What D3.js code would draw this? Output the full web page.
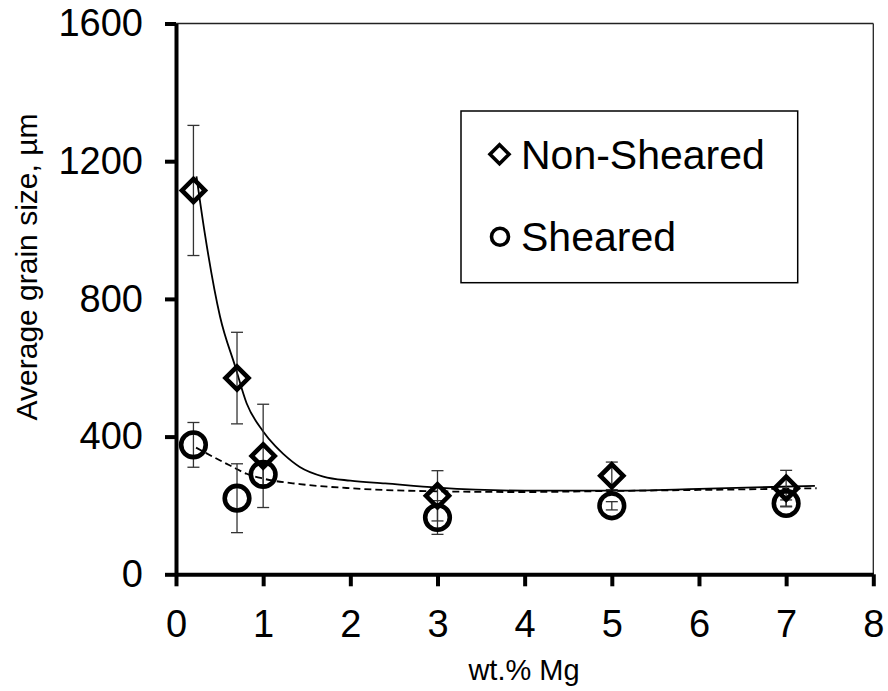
<!DOCTYPE html>
<html>
<head>
<meta charset="utf-8">
<script src="https://cdn.jsdelivr.net/npm/d3@7"></script>
<style>
  body { margin: 0; background: #fff; }
  text { font-family: "Liberation Sans", Arial, sans-serif; fill: #000; }
</style>
</head>
<body>
<div id="chart"></div>
<script>
// Data
const mgContent = [0.2, 0.7, 1, 3, 5, 7];
const nonShearedSize = [1115, 570, 344, 228, 286, 250];
const nonShearedErr = [189, 133, 150, 73, 40, 52];
const shearedSize = [376, 221, 290, 165, 199, 206];
const shearedErr = [65, 100, 30, 49, 12, 10];

// trend lines (x, size)
const nonShearedFit = [[0.235, 1156], [0.33, 991], [0.505, 749], [0.68, 603], [0.81, 497], [1.0, 415],
    [1.14, 372], [1.23, 350], [1.42, 312], [1.69, 284], [2.0, 272], [2.4, 264], [3.0, 252],
    [4.0, 243], [5.0, 243], [6.0, 248], [7.33, 257]];
const shearedFit = [[0.23, 368], [0.45, 338], [0.62, 316], [0.81, 292], [1.0, 278], [1.42, 262],
    [2.0, 250], [3.0, 241], [4.0, 239], [5.0, 242], [6.0, 245], [7.35, 250]];

const xTicks = [0, 1, 2, 3, 4, 5, 6, 7, 8];
const yTicks = [0, 400, 800, 1200, 1600];

// Dimensions
const W = 888, H = 691;
const plotLeft = 176, plotRight = 873.3, plotTop = 23.5, plotBottom = 574.3;

const svg = d3.select("#chart")
    .append("svg")
    .attr("width", W)
    .attr("height", H);

// Scales
const x = d3.scaleLinear().domain([0, 8]).range([plotLeft, plotRight]);
const y = d3.scaleLinear().domain([0, 1600]).range([plotBottom, plotTop]);

// Plot frame (thin top and right)
svg.append("line")
    .attr("x1", plotLeft).attr("x2", plotRight)
    .attr("y1", plotTop).attr("y2", plotTop)
    .attr("stroke", "#222").attr("stroke-width", 1.3);
svg.append("line")
    .attr("x1", plotRight).attr("x2", plotRight)
    .attr("y1", plotTop).attr("y2", plotBottom)
    .attr("stroke", "#222").attr("stroke-width", 1.3);

// Axes
const yAxis = svg.append("g")
    .attr("transform", `translate(${plotLeft},0)`)
    .call(d3.axisLeft(y).tickValues(yTicks).tickFormat(d3.format("d"))
        .tickSize(11).tickSizeOuter(0).tickPadding(22));

const xAxis = svg.append("g")
    .attr("transform", `translate(0,${plotBottom})`)
    .call(d3.axisBottom(x).tickValues(xTicks).tickFormat(d3.format("d"))
        .tickSize(12).tickSizeOuter(0).tickPadding(24));

[xAxis, yAxis].forEach(g => {
    g.select(".domain").attr("stroke", "#000").attr("stroke-width", 4);
    g.selectAll(".tick line").attr("stroke", "#000").attr("stroke-width", 4);
    g.selectAll(".tick text")
        .style("font-size", "38px")
        .style("font-family", "'Liberation Sans', Arial, sans-serif")
        .attr("fill", "#000");
});

// Axis labels
svg.append("text")
    .attr("x", 524)
    .attr("y", 680)
    .attr("text-anchor", "middle")
    .style("font-size", "29px")
    .text("wt.% Mg");

svg.append("text")
    .attr("transform", "rotate(-90)")
    .attr("x", -267)
    .attr("y", 37)
    .attr("text-anchor", "middle")
    .style("font-size", "30px")
    .text("Average grain size, µm");

// Trend lines
const line = d3.line()
    .x(d => x(d[0]))
    .y(d => y(d[1]))
    .curve(d3.curveMonotoneX);

svg.append("path")
    .datum(nonShearedFit)
    .attr("d", line)
    .attr("fill", "none")
    .attr("stroke", "#000")
    .attr("stroke-width", 1.8);

svg.append("path")
    .datum(shearedFit)
    .attr("d", line)
    .attr("fill", "none")
    .attr("stroke", "#000")
    .attr("stroke-width", 1.8)
    .attr("stroke-dasharray", "7,4");

// Error bars
function errorBars(vals, errs) {
    const g = svg.append("g")
        .attr("stroke", "#333")
        .attr("stroke-width", 1.3);
    mgContent.forEach((m, i) => {
        const cx = x(m);
        const y1 = y(vals[i] + errs[i]);
        const y2 = y(vals[i] - errs[i]);
        g.append("line").attr("x1", cx).attr("x2", cx).attr("y1", y1).attr("y2", y2);
        g.append("line").attr("x1", cx - 6).attr("x2", cx + 6).attr("y1", y1).attr("y2", y1);
        g.append("line").attr("x1", cx - 6).attr("x2", cx + 6).attr("y1", y2).attr("y2", y2);
    });
}
errorBars(nonShearedSize, nonShearedErr);
errorBars(shearedSize, shearedErr);

// Markers
const diamond = r => `M0,${-r}L${r},0L0,${r}L${-r},0Z`;

svg.append("g")
    .selectAll("path")
    .data(mgContent)
    .enter()
    .append("path")
    .attr("transform", (d, i) => `translate(${x(d)},${y(nonShearedSize[i])})`)
    .attr("d", diamond(11.5))
    .attr("fill", "none")
    .attr("stroke", "#000")
    .attr("stroke-width", 4.6);

svg.append("g")
    .selectAll("circle")
    .data(mgContent)
    .enter()
    .append("circle")
    .attr("cx", d => x(d))
    .attr("cy", (d, i) => y(shearedSize[i]))
    .attr("r", 12.3)
    .attr("fill", "none")
    .attr("stroke", "#000")
    .attr("stroke-width", 4.6);

// Legend
const legend = svg.append("g");
legend.append("rect")
    .attr("x", 461)
    .attr("y", 111)
    .attr("width", 336.7)
    .attr("height", 171.7)
    .attr("fill", "#fff")
    .attr("stroke", "#000")
    .attr("stroke-width", 1.5);

legend.append("path")
    .attr("transform", "translate(499.5,154.3)")
    .attr("d", diamond(9.5))
    .attr("fill", "none")
    .attr("stroke", "#000")
    .attr("stroke-width", 3.6);

legend.append("text")
    .attr("x", 521)
    .attr("y", 168.5)
    .style("font-size", "41px")
    .text("Non-Sheared");

legend.append("circle")
    .attr("cx", 500)
    .attr("cy", 236.7)
    .attr("r", 8.5)
    .attr("fill", "none")
    .attr("stroke", "#000")
    .attr("stroke-width", 3.6);

legend.append("text")
    .attr("x", 521)
    .attr("y", 251)
    .style("font-size", "41px")
    .text("Sheared");
</script>
</body>
</html>
